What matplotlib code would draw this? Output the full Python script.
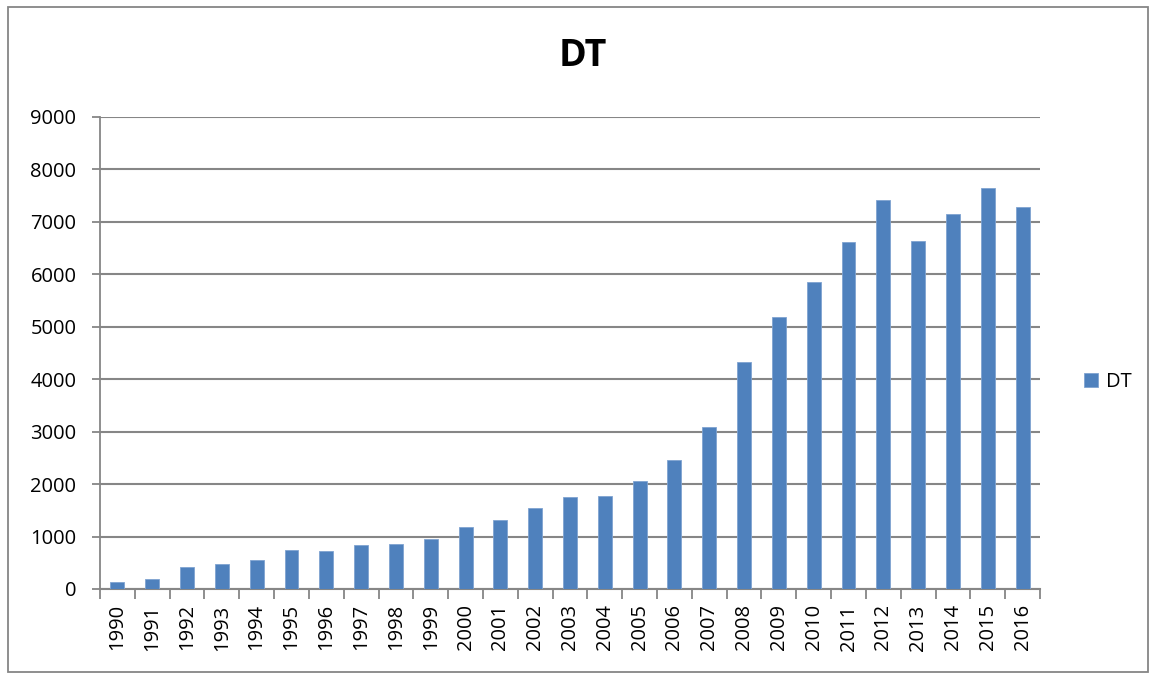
import matplotlib
matplotlib.use("Agg")
import matplotlib.pyplot as plt
from matplotlib.patches import Rectangle
import numpy as np

years = [str(y) for y in range(1990, 2017)]
values = [130, 200, 412, 469, 558, 750, 719, 840, 865, 950, 1178, 1313, 1549, 1753,
          1772, 2052, 2453, 3092, 4321, 5185, 5849, 6619, 7415, 6631, 7147, 7644, 7287]
series_name = "DT"

plt.rcParams['font.family'] = ['Open Sans', 'DejaVu Sans']

fig = plt.figure(figsize=(11.55, 6.78), dpi=100)
ax = fig.add_axes([100/1155, 1 - 589/678, 940/1155, 472/678])

x = np.arange(len(years))
ax.bar(x, values, width=0.4, color='#4F81BD', edgecolor='#7FA3D1', linewidth=0.6, zorder=3,
       label=series_name)

ax.set_xlim(-0.5, len(years) - 0.5)
ax.set_ylim(0, 9000)
ax.set_yticks(range(0, 9001, 1000))
ax.set_yticklabels([str(v) for v in range(0, 9001, 1000)], fontsize=14.5)
ax.set_xticks(x)
ax.set_xticklabels(years, rotation=90, fontsize=14.5)
ax.tick_params(axis='x', length=0, pad=11)
ax.set_xticks(np.arange(-0.5, len(years), 1), minor=True)
ax.tick_params(axis='x', which='minor', length=7, color='#868686', width=1.3)
ax.tick_params(axis='y', length=6, color='#868686', width=1.3, pad=11)

ax.grid(axis='y', color='#868686', linewidth=1.5, zorder=0)
for s in ['top', 'right']:
    ax.spines[s].set_visible(False)
ax.spines['left'].set_color('#868686')
ax.spines['left'].set_linewidth(1.3)
ax.spines['bottom'].set_color('#868686')
ax.spines['bottom'].set_linewidth(1.5)

fig.text(583/1155, 1 - 56/678, series_name, fontsize=27, fontweight='bold', ha='center', va='center')

leg = fig.legend(loc='center left', bbox_to_anchor=(1066/1155, 1 - 382/678), frameon=False,
                 fontsize=14.5, handlelength=0.7, handleheight=0.7, handletextpad=0.4)

fig.patches.append(Rectangle((8/1155, 6/678), 1140/1155, 665/678, transform=fig.transFigure,
                             fill=False, edgecolor='#868686', linewidth=1.3))

fig.savefig("out.png", dpi=100)
